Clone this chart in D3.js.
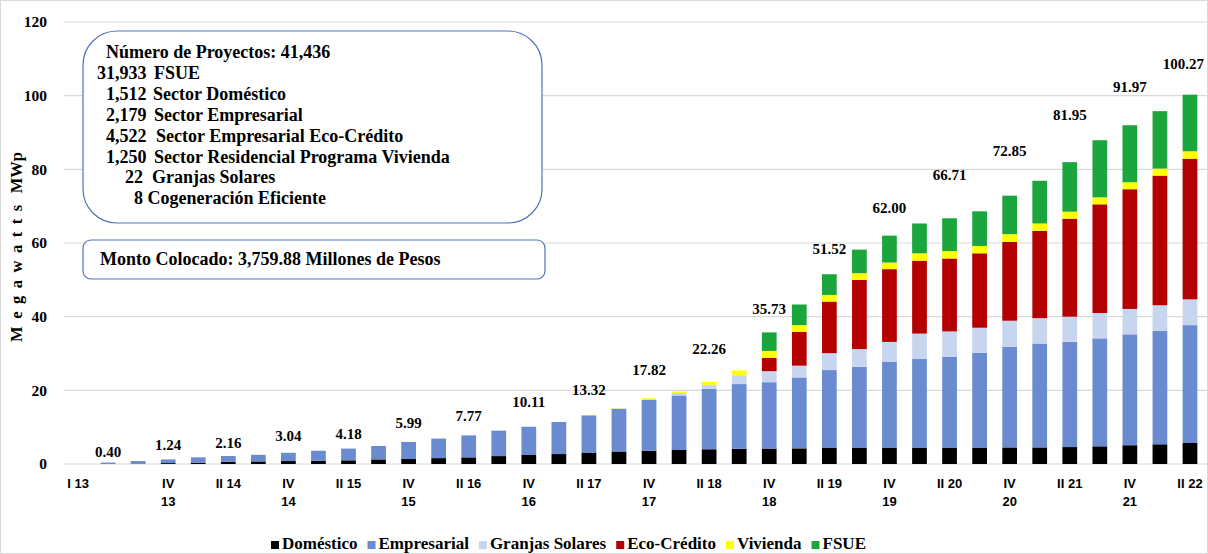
<!DOCTYPE html>
<html lang="es">
<head>
<meta charset="UTF-8">
<title>Megawatts MWp</title>
<script src="https://d3js.org/d3.v7.min.js"></script>
<style>
  body { margin: 0; background: #fff; }
  svg text { font-family: "Liberation Serif", serif; font-weight: bold; fill: #000; }
  .xlab { font-family: "Liberation Sans", sans-serif; font-size: 13px; }
</style>
</head>
<body>
<script>
// Categorías (trimestres)
const quarters = [
  "I 13","II 13","III 13","IV 13","I 14","II 14","III 14","IV 14",
  "I 15","II 15","III 15","IV 15","I 16","II 16","III 16","IV 16",
  "I 17","II 17","III 17","IV 17","I 18","II 18","III 18","IV 18",
  "I 19","II 19","III 19","IV 19","I 20","II 20","III 20","IV 20",
  "I 21","II 21","III 21","IV 21","I 22","II 22"
];
// Etiquetas visibles del eje
const tickLabels = [
  "I 13","","","IV|13","","II 14","","IV|14",
  "","II 15","","IV|15","","II 16","","IV|16",
  "","II 17","","IV|17","","II 18","","IV|18",
  "","II 19","","IV|19","","II 20","","IV|20",
  "","II 21","","IV|21","","II 22"
];

// Series (MWp)
const domestico = [0,0,0.1,0.25,0.35,0.6,0.7,0.8,0.85,1.0,1.25,1.35,1.6,1.8,2.15,2.45,2.7,3.1,3.4,3.6,
  3.8,4.0,4.1,4.2,4.25,4.35,4.35,4.35,4.35,4.35,4.35,4.5,4.5,4.6,4.8,5.1,5.35,5.7];
const empresarial = [0,0.40,0.7,0.99,1.45,1.56,1.8,2.24,2.75,3.18,3.65,4.64,5.3,5.97,6.9,7.66,8.7,10.12,11.6,13.8,
  14.8,16.4,17.6,18.0,19.25,21.15,22.05,23.45,24.15,24.75,25.85,27.3,28.2,28.6,29.3,30.1,30.75,32.0];
const granjas = [0,0,0,0,0,0,0,0,0,0,0,0,0,0,0,0,0,0,0.05,0.2,
  0.7,1.1,2.4,3.0,3.2,4.6,4.8,5.35,6.9,6.9,6.8,7.1,6.9,6.8,6.9,6.9,7.0,7.0];
const ecoCredito = [0,0,0,0,0,0,0,0,0,0,0,0,0,0,0,0,0,0,0,0,
  0,0,0,3.6,9.2,14.0,18.8,19.75,19.8,19.8,20.2,21.4,23.7,26.6,29.5,32.5,35.2,38.2];
const vivienda = [0,0,0,0,0,0,0,0,0,0,0,0,0,0,0,0,0,0.1,0.1,0.22,
  0.4,0.76,1.3,1.9,1.8,1.8,1.8,1.8,2.0,2.0,2.0,2.1,2.0,1.9,1.9,1.9,1.9,2.0];
const fsue = [0,0,0,0,0,0,0,0,0,0,0,0,0,0,0,0,0,0,0,0,
  0,0,0,5.03,5.6,5.62,6.4,7.3,8.1,8.91,9.4,10.45,11.6,13.45,15.5,15.47,15.6,15.37];

// Totales rotulados y altura (MWp) a la que aparece cada rótulo
const totalLabels = [
  {i:1, text:"0.40", at:3.35}, {i:3, text:"1.24", at:5.1}, {i:5, text:"2.16", at:5.9},
  {i:7, text:"3.04", at:7.6}, {i:9, text:"4.18", at:8.3}, {i:11, text:"5.99", at:11.3},
  {i:13, text:"7.77", at:13.1}, {i:15, text:"10.11", at:16.9}, {i:17, text:"13.32", at:20.1},
  {i:19, text:"17.82", at:25.7}, {i:21, text:"22.26", at:31.4}, {i:23, text:"35.73", at:42.2},
  {i:25, text:"51.52", at:58.4}, {i:27, text:"62.00", at:69.5}, {i:29, text:"66.71", at:78.5},
  {i:31, text:"72.85", at:85.1}, {i:33, text:"81.95", at:94.7}, {i:35, text:"91.97", at:102.5},
  {i:37, text:"100.27", at:108.7}
];

const yTicks = [0, 20, 40, 60, 80, 100, 120];

const seriesNames = ["Doméstico", "Empresarial", "Granjas Solares", "Eco-Crédito", "Vivienda", "FSUE"];
const seriesData = [domestico, empresarial, granjas, ecoCredito, vivienda, fsue];
const colors = ["#000000", "#6a8bd0", "#c8d5ee", "#b40000", "#ffff00", "#1ba53d"];

const infoLines = [
  {num: "", text: "Número de Proyectos: 41,436", nx: 106, tx: 106},
  {num: "31,933", text: "FSUE", nx: 97, tx: 154},
  {num: "1,512", text: "Sector Doméstico", nx: 106, tx: 153},
  {num: "2,179", text: "Sector Empresarial", nx: 106, tx: 154},
  {num: "4,522", text: "Sector Empresarial Eco-Crédito", nx: 106, tx: 156},
  {num: "1,250", text: "Sector Residencial Programa Vivienda", nx: 106, tx: 154},
  {num: "22", text: "Granjas Solares", nx: 125, tx: 152},
  {num: "", text: "8 Cogeneración Eficiente", nx: 134, tx: 134}
];

const W = 1208, H = 554;
const svg = d3.select("body").append("svg")
    .attr("width", W)
    .attr("height", H);

svg.append("rect")
    .attr("x", 0.5).attr("y", 0.5)
    .attr("width", W - 1).attr("height", H - 1)
    .attr("fill", "#fff").attr("stroke", "#d9d9d9");

const x = d3.scaleBand().domain(quarters).range([63, 1205]).paddingInner(0.51).paddingOuter(0.255);
const y = d3.scaleLinear().domain([0, 120]).range([464, 22]);

// Grid
svg.append("g").selectAll("line")
    .data(yTicks)
    .join("line")
    .attr("x1", 64).attr("x2", W)
    .attr("y1", d => y(d)).attr("y2", d => y(d))
    .attr("stroke", "#d9d9d9").attr("stroke-width", 1.2);

// Y axis labels
svg.append("g").selectAll("text")
    .data(yTicks)
    .join("text")
    .attr("x", 47)
    .attr("y", d => y(d))
    .attr("dy", "0.35em")
    .attr("text-anchor", "end")
    .style("font-size", "15.5px")
    .text(d => d);

// Axis title
const yt = svg.append("text")
    .attr("transform", "translate(18,247) rotate(-90)")
    .attr("text-anchor", "middle")
    .attr("dominant-baseline", "middle")
    .style("font-size", "16.5px");
yt.append("tspan").style("letter-spacing", "7.5px").text("Megawatts");
yt.append("tspan").text(" MWp");

// Stacked bars
const rows = quarters.map((q, i) => {
  const r = {q};
  seriesNames.forEach((s, k) => r[s] = seriesData[k][i]);
  return r;
});
const stack = d3.stack().keys(seriesNames)(rows);

svg.append("g").selectAll("g")
    .data(stack)
    .join("g")
    .attr("fill", (d, k) => colors[k])
    .selectAll("rect")
    .data(d => d)
    .join("rect")
    .attr("x", d => x(d.data.q))
    .attr("width", x.bandwidth())
    .attr("y", d => y(d[1]))
    .attr("height", d => Math.max(0, y(d[0]) - y(d[1])));

// Total labels (kept inside the right edge)
svg.append("g").selectAll("text")
    .data(totalLabels)
    .join("text")
    .attr("y", d => y(d.at))
    .attr("dy", "0.35em")
    .attr("text-anchor", "middle")
    .style("font-size", "15px")
    .text(d => d.text)
    .attr("x", function(d) {
      const cx = x(quarters[d.i]) + x.bandwidth() / 2;
      const half = this.getComputedTextLength() / 2;
      return Math.min(cx, W - 4 - half);
    });

// X axis labels
const xl = svg.append("g").selectAll("text")
    .data(quarters.map((q, i) => ({q, lab: tickLabels[i]})).filter(d => d.lab))
    .join("text")
    .attr("class", "xlab")
    .attr("text-anchor", "middle")
    .attr("x", d => x(d.q) + x.bandwidth() / 2)
    .attr("y", 488);
xl.selectAll("tspan")
    .data(d => d.lab.split("|").map(t => ({t, cx: x(d.q) + x.bandwidth() / 2})))
    .join("tspan")
    .attr("x", d => d.cx)
    .attr("dy", (d, i) => i ? 18 : 0)
    .text(d => d.t);

// Info boxes
svg.append("rect")
    .attr("x", 83).attr("y", 31).attr("width", 459).attr("height", 192)
    .attr("rx", 34).attr("ry", 34)
    .attr("fill", "#fff").attr("stroke", "#4f72b8").attr("stroke-width", 1.2);

const info = svg.append("g").style("font-size", "18px");
infoLines.forEach((l, i) => {
  const yy = 58 + i * 20.9;
  if (l.num) info.append("text").attr("x", l.nx).attr("y", yy).text(l.num);
  info.append("text").attr("x", l.tx).attr("y", yy).text(l.text);
});

svg.append("rect")
    .attr("x", 83).attr("y", 240).attr("width", 462).attr("height", 39)
    .attr("rx", 8).attr("ry", 8)
    .attr("fill", "#fff").attr("stroke", "#4f72b8").attr("stroke-width", 1.2);
svg.append("text")
    .attr("x", 100).attr("y", 265)
    .style("font-size", "18px")
    .text("Monto Colocado: 3,759.88 Millones de Pesos");

// Legend
const legend = svg.append("g");
let lx = 271;
seriesNames.forEach((s, k) => {
  legend.append("rect")
      .attr("x", lx).attr("y", 541).attr("width", 8).attr("height", 8)
      .attr("fill", colors[k]);
  const t = legend.append("text")
      .attr("x", lx + 11).attr("y", 549)
      .style("font-size", "17px")
      .text(s);
  lx += 11 + t.node().getComputedTextLength() + 10;
});
</script>
</body>
</html>
